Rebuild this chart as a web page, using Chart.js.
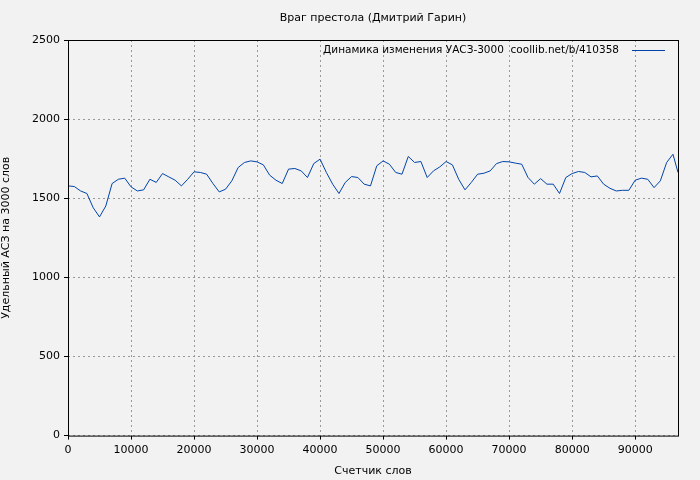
<!DOCTYPE html>
<html lang="ru">
<head>
<meta charset="UTF-8">
<title>Враг престола</title>
<script src="https://cdn.jsdelivr.net/npm/chart.js"></script>
<style>
  html, body { margin: 0; padding: 0; background: #f2f2f2; }
  #wrap { width: 700px; height: 480px; }
</style>
</head>
<body>
<div id="wrap"><canvas id="chart" width="700" height="480"></canvas></div>
<script>
// word counter positions
const wordCounts = [0,1000,2000,3000,4000,5000,6000,7000,8000,9000,10000,11000,12000,13000,14000,15000,16000,17000,18000,19000,
  20000,21000,22000,23000,24000,25000,26000,27000,28000,29000,30000,31000,32000,33000,34000,35000,36000,37000,38000,39000,
  40000,41000,42000,43000,44000,45000,46000,47000,48000,49000,50000,51000,52000,53000,54000,55000,56000,57000,58000,59000,
  60000,61000,62000,63000,64000,65000,66000,67000,68000,69000,70000,71000,72000,73000,74000,75000,76000,77000,78000,79000,
  80000,81000,82000,83000,84000,85000,86000,87000,88000,89000,90000,91000,92000,93000,94000,95000,96000,96800];
// УАСЗ-3000 values
const uasz = [1578,1574,1546,1530,1440,1382,1451,1593,1620,1627,1572,1546,1553,1620,1600,1656,1635,1614,1578,1620,
  1667,1663,1652,1593,1540,1557,1610,1694,1726,1736,1730,1711,1646,1614,1593,1684,1688,1673,1631,1719,
  1747,1663,1589,1530,1600,1637,1631,1589,1578,1705,1736,1715,1663,1652,1764,1726,1732,1631,1673,1698,
  1732,1711,1620,1553,1600,1652,1658,1673,1719,1732,1730,1722,1715,1631,1589,1624,1589,1589,1530,1631,
  1656,1669,1663,1635,1641,1589,1563,1546,1550,1550,1614,1627,1620,1567,1610,1726,1778,1663];
const xTicks = [0,10000,20000,30000,40000,50000,60000,70000,80000,90000];
const yTicks = [0,500,1000,1500,2000,2500];
const chartTitle = 'Враг престола (Дмитрий Гарин)';
const seriesLabel = 'Динамика изменения УАСЗ-3000  coollib.net/b/410358';

const FONT = 'DejaVu Sans';
Chart.defaults.font.family = FONT;
Chart.defaults.font.size = 11;
Chart.defaults.color = '#000';

// frame, title centred over the plot, legend inside the plot
const frameAndLegend = {
  id: 'frameAndLegend',
  afterDraw(chart) {
    const { ctx, chartArea: a } = chart;
    ctx.save();
    ctx.strokeStyle = '#000';
    ctx.lineWidth = 1;
    ctx.strokeRect(a.left + 0.5, a.top + 0.5, a.right - a.left, a.bottom - a.top);
    ctx.fillStyle = '#000';
    ctx.textBaseline = 'middle';
    ctx.font = '11px ' + FONT;
    ctx.textAlign = 'center';
    ctx.fillText(chartTitle, (a.left + a.right) / 2, 18);
    ctx.font = '10.5px ' + FONT;
    ctx.textAlign = 'right';
    ctx.fillText(seriesLabel, 619, 50);
    ctx.strokeStyle = '#0044aa';
    ctx.beginPath();
    ctx.moveTo(632, 50.5);
    ctx.lineTo(665, 50.5);
    ctx.stroke();
    ctx.restore();
  }
};

new Chart(document.getElementById('chart'), {
  type: 'line',
  data: {
    datasets: [{
      data: wordCounts.map((x, i) => ({ x, y: uasz[i] })),
      borderColor: '#0044aa',
      borderWidth: 1,
      pointRadius: 0,
      tension: 0,
      fill: false
    }]
  },
  options: {
    responsive: false,
    animation: false,
    layout: { padding: { left: 0, right: 22, top: 40, bottom: 2 } },
    plugins: {
      legend: { display: false },
      tooltip: { enabled: false },
      title: { display: false }
    },
    scales: {
      x: {
        type: 'linear',
        min: 0,
        max: 96800,
        afterBuildTicks: s => { s.ticks = xTicks.map(v => ({ value: v })); },
        ticks: { maxRotation: 0, padding: 4, callback: v => String(v) },
        grid: { color: '#999', tickColor: '#000', tickLength: 4 },
        border: { display: false, dash: [2, 3] },
        title: { display: true, text: 'Счетчик слов', padding: { top: 4, bottom: 0 } }
      },
      y: {
        min: 0,
        max: 2500,
        afterBuildTicks: s => { s.ticks = yTicks.map(v => ({ value: v })); },
        afterFit: s => { s.width = 68; },
        ticks: { padding: 4, callback: v => String(v) },
        grid: { color: '#999', tickColor: '#000', tickLength: 4 },
        border: { display: false, dash: [2, 3] },
        title: { display: true, text: 'Удельный АСЗ на 3000 слов', padding: { top: 0, bottom: 4 } }
      }
    }
  },
  plugins: [frameAndLegend]
});
</script>
</body>
</html>
